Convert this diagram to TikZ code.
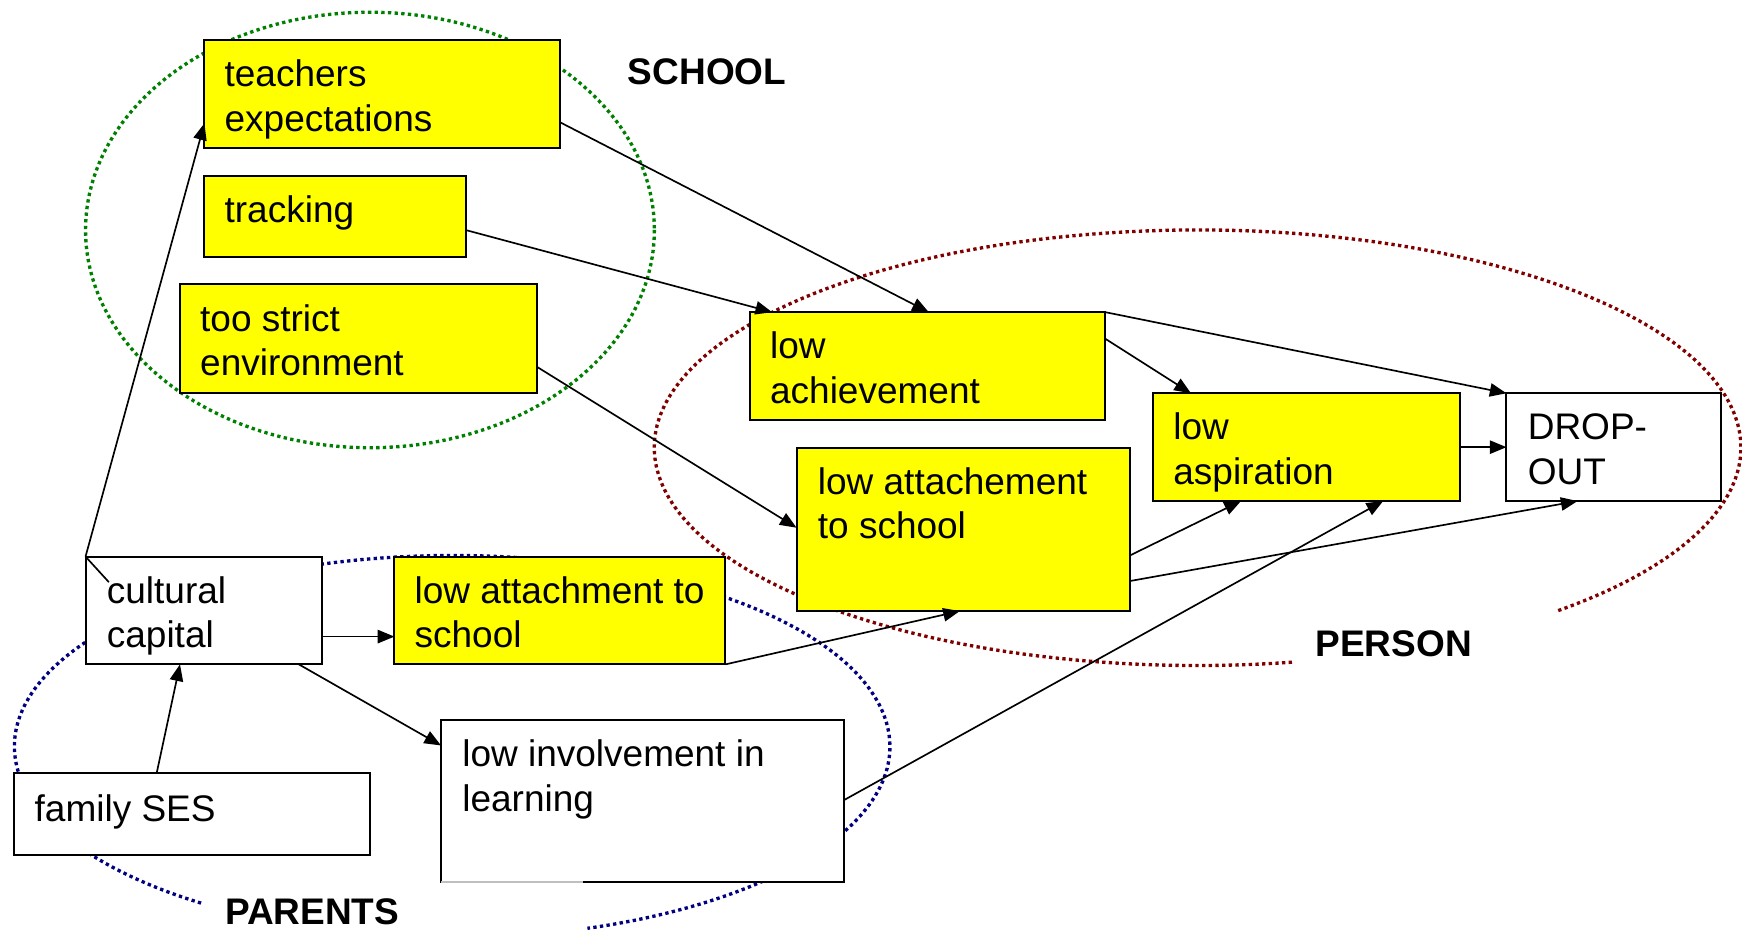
\documentclass[tikz,border=0pt]{standalone}
\usepackage{fontspec}
\setmainfont{Liberation Sans}
\usetikzlibrary{calc,arrows.meta}
\definecolor{boxyellow}{RGB}{255,255,0}
\definecolor{schoolgreen}{RGB}{0,128,0}
\definecolor{personred}{RGB}{128,0,0}
\definecolor{parentblue}{RGB}{0,0,128}
\begin{document}
\begin{tikzpicture}[x=1pt,y=-1pt,
  box/.style={draw=black, line width=1.8pt, anchor=north west, inner sep=0pt, outer sep=0pt},
  ybox/.style={box, fill=boxyellow},
  wbox/.style={box, fill=white},
  txt/.style={anchor=base west, inner sep=0pt, align=left, font=\fontsize{33.3}{40}\selectfont},
  lbl/.style={anchor=base west, inner sep=0pt, font=\fontsize{33.3}{40}\selectfont\bfseries},
  link/.style={line width=1.5pt, -{Triangle[length=15pt,width=12pt]}},
  plain/.style={line width=1.5pt},
  ring/.style={line width=3pt, dash pattern=on 3pt off 3pt},
]
\useasboundingbox (0,0) rectangle (1568,838);

% group rings
\draw[ring, schoolgreen] (333,207) ellipse [x radius=256, y radius=196];
\draw[ring, personred] ($(1078,403)+({489*cos(80)},{196*sin(80)})$)
  arc[start angle=80, end angle=408.5, x radius=489, y radius=196];
\draw[ring, parentblue] ($(407,672)+({394*cos(125)},{172*sin(125)})$)
  arc[start angle=125, end angle=432, x radius=394, y radius=172];

% boxes
\node[ybox, minimum width=320pt, minimum height=97pt] (te) at (184,36) {};
\node[ybox, minimum width=235pt, minimum height=73pt] (tr) at (184,158) {};
\node[ybox, minimum width=321pt, minimum height=98pt] (ts) at (162,256) {};
\node[ybox, minimum width=320pt, minimum height=97pt] (la) at (675,281) {};
\node[ybox, minimum width=300pt, minimum height=147pt] (lat) at (717,403) {};
\node[ybox, minimum width=276pt, minimum height=97pt] (las) at (1038,354) {};
\node[wbox, minimum width=193pt, minimum height=97pt] (do) at (1356,354) {};
\node[wbox, minimum width=213pt, minimum height=97pt] (cc) at (77,501) {};
\node[ybox, minimum width=298pt, minimum height=97pt] (lats) at (355,501) {};
\node[wbox, minimum width=363pt, minimum height=146pt] (li) at (397,648) {};
\node[wbox, minimum width=320pt, minimum height=74pt] (fs) at (13,696) {};
\draw[line width=1.8pt, black!25] (li.south west) -- ($(li.south west)+(128,0)$);

% box texts (base anchor = baseline of the last line)
\node[txt] (te-t) at ($(te.north west)+(18,82)$) {teachers\\expectations};
\node[txt] (tr-t) at ($(tr.north west)+(18,42)$) {tracking};
\node[txt] (ts-t) at ($(ts.north west)+(18,82)$) {too strict\\environment};
\node[txt] (la-t) at ($(la.north west)+(18,82)$) {low\\achievement};
\node[txt] (lat-t) at ($(lat.north west)+(19,82)$) {low attachement\\to school};
\node[txt] (las-t) at ($(las.north west)+(18,82)$) {low\\aspiration};
\node[txt] (do-t) at ($(do.north west)+(19,82)$) {DROP-\\OUT};
\node[txt] (cc-t) at ($(cc.north west)+(19,82)$) {cultural\\capital};
\node[txt] (lats-t) at ($(lats.north west)+(18,82)$) {low attachment to\\school};
\node[txt] (li-t) at ($(li.north west)+(19,82)$) {low involvement in\\learning};
\node[txt] (fs-t) at ($(fs.north west)+(18,43)$) {family SES};

% group labels
\node[lbl] (school) at (565,76.5) {SCHOOL};
\node[lbl] (person) at (1184,590.5) {PERSON};
\node[lbl] (parents) at (202.5,832.5) {PARENTS};

% connectors
\coordinate (cctick) at ($(cc.north west)+(21,23)$);
\draw[plain] (cc.north west) -- (cctick);
\draw[link] (cc.north west) -- ($(te.north west)+(0,75)$);
\draw[link] ($(te.north east)+(0,74)$) -- ($(la.north west)+(161,0)$);
\draw[link] ($(tr.north east)+(0,49)$) -- ($(la.north west)+(20,0)$);
\draw[link] ($(ts.north east)+(0,74)$) -- ($(lat.north west)+(0,72)$);
\draw[link] (la.north east) -- (do.north west);
\draw[link] ($(la.north east)+(0,24)$) -- ($(las.north west)+(34,0)$);
\draw[link] (las.east) -- (do.west);
\draw[link] ($(lat.north east)+(0,97)$) -- ($(las.south west)+(79,0)$);
\draw[link] ($(lat.north east)+(0,120)$) -- ($(do.south west)+(64,0)$);
\draw[link] ($(li.north east)+(0,72)$) -- ($(las.south west)+(207,0)$);
\draw[link] (lats.south east) -- ($(lat.south west)+(147,0)$);
\draw[link] ($(cc.north east)+(0,72)$) -- ($(lats.north west)+(0,72)$);
\draw[link] ($(cc.south west)+(192,0)$) -- ($(li.north west)+(0,23)$);
\draw[link] ($(fs.north west)+(128,0)$) -- ($(cc.south west)+(85,0)$);
\end{tikzpicture}
\end{document}
